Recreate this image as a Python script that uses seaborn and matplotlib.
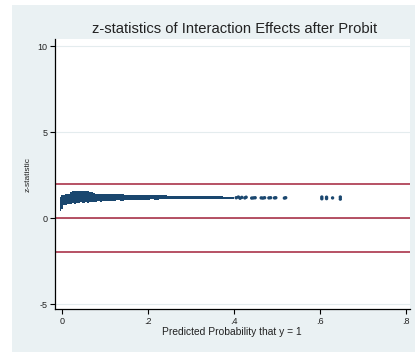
import matplotlib
matplotlib.use("Agg")
import matplotlib.pyplot as plt
import seaborn as sns
import pandas as pd
from matplotlib.patches import Rectangle

# ---- data ----
band_x = [-0.004, 0.000, 0.005, 0.010, 0.015, 0.020, 0.025, 0.030, 0.035, 0.040,
          0.045, 0.050, 0.055, 0.060, 0.065, 0.070, 0.075, 0.080, 0.085, 0.090,
          0.095, 0.100, 0.11, 0.12, 0.13, 0.14, 0.15, 0.16, 0.17, 0.18, 0.19,
          0.20, 0.21, 0.22, 0.23, 0.24, 0.25, 0.26, 0.27, 0.28, 0.29, 0.30,
          0.31, 0.32, 0.33, 0.34, 0.35, 0.36, 0.37, 0.38, 0.39, 0.40]
band_hi = [1.25, 1.32, 1.36, 1.37, 1.40, 1.54, 1.57, 1.58, 1.58, 1.57,
           1.57, 1.56, 1.56, 1.55, 1.54, 1.50, 1.43, 1.42, 1.42, 1.41,
           1.41, 1.40, 1.39, 1.38, 1.38, 1.37, 1.36, 1.35, 1.35, 1.34, 1.33,
           1.33, 1.32, 1.32, 1.31, 1.31, 1.30, 1.30, 1.29, 1.29, 1.28, 1.28,
           1.28, 1.27, 1.27, 1.27, 1.26, 1.26, 1.26, 1.25, 1.25, 1.25]
band_lo = [0.40, 0.50, 0.74, 0.78, 0.82, 0.80, 0.86, 0.83, 0.90, 0.86,
           0.92, 0.88, 0.94, 0.90, 0.95, 0.91, 0.96, 0.93, 0.98, 0.95,
           0.99, 0.97, 1.01, 0.99, 1.03, 1.01, 1.04, 1.03, 1.06, 1.05, 1.07,
           1.06, 1.08, 1.07, 1.09, 1.08, 1.10, 1.09, 1.10, 1.10, 1.11, 1.11,
           1.11, 1.12, 1.12, 1.12, 1.12, 1.13, 1.13, 1.13, 1.13, 1.13]

sparse_x = [0.405, 0.410, 0.414, 0.418, 0.425, 0.428, 0.441, 0.445, 0.449, 0.463,
            0.467, 0.471, 0.481, 0.485, 0.494, 0.497, 0.517, 0.520, 0.604, 0.604,
            0.615, 0.615, 0.629, 0.647, 0.647]
sparse_z = [1.18, 1.22, 1.15, 1.20, 1.17, 1.21, 1.16, 1.17, 1.18, 1.17,
            1.16, 1.18, 1.17, 1.18, 1.17, 1.18, 1.16, 1.18, 1.12, 1.22,
            1.13, 1.21, 1.17, 1.10, 1.22]

ref_lines = [1.96, 0.0, -1.96]
x_ticks = [0, 0.2, 0.4, 0.6, 0.8]
x_ticklabels = ["0", ".2", ".4", ".6", ".8"]
y_ticks = [-5, 0, 5, 10]
y_ticklabels = ["-5", "0", "5", "10"]

title = "z-statistics of Interaction Effects after Probit"
xlabel = "Predicted Probability that y = 1"
ylabel = "z-statistic"

# ---- style ----
sns.set_style("white")
plt.rcParams['font.family'] = ['Liberation Sans', 'DejaVu Sans']

navy = "#1a476f"
maroon = "#a3223b"
region = "#eaf1f3"

W, H = 418, 352
fig = plt.figure(figsize=(W / 100, H / 100), dpi=100, facecolor="white")
bg = Rectangle((12 / W, 0), 403 / W, 347 / H, transform=fig.transFigure,
               facecolor=region, edgecolor="none", zorder=-10)
fig.patches.append(bg)

L, R, T, B = 55, 410, 39, 309
ax = fig.add_axes([L / W, 1 - B / H, (R - L) / W, (B - T) / H])
ax.set_zorder(5)
ax.set_facecolor("white")

for yv in y_ticks:
    ax.axhline(yv, color="#e4ecee", lw=0.8, zorder=0)
for yv in ref_lines:
    ax.axhline(yv, color=maroon, lw=1.1, zorder=1)

ax.fill_between(band_x, band_lo, band_hi, step="mid", color=navy, lw=0, zorder=2)
df = pd.DataFrame({"x": sparse_x, "z": sparse_z})
sns.scatterplot(data=df, x="x", y="z", ax=ax, color=navy, s=6, marker="o",
                edgecolor="none", linewidth=0, zorder=3)

ax.set_xlim(-0.0163, 0.809)
ax.set_ylim(-5.29, 10.41)
ax.set_xticks(x_ticks)
ax.set_xticklabels(x_ticklabels)
ax.set_yticks(y_ticks)
ax.set_yticklabels(y_ticklabels)
ax.tick_params(axis="both", direction="out", length=3.5, width=0.8, color="black",
               labelsize=6.5, pad=2, labelcolor="#222222")
ax.tick_params(left=True, bottom=True)
for s in ["top", "right"]:
    ax.spines[s].set_visible(False)
for s in ["left", "bottom"]:
    ax.spines[s].set_color("black")
    ax.spines[s].set_linewidth(0.9)
ax.set_xlabel("")
ax.set_ylabel("")

fig.text(235 / W, 1 - 29 / H, title, ha="center", va="center", fontsize=10.6, color="#222222")
fig.text(232 / W, 1 - 332 / H, xlabel, ha="center", va="center", fontsize=7.4, color="#222222")
fig.text(28 / W, 1 - 175 / H, ylabel, ha="center", va="center", rotation=90, fontsize=6.0,
         color="#222222")

fig.savefig("out.png", dpi=100, facecolor="white")
